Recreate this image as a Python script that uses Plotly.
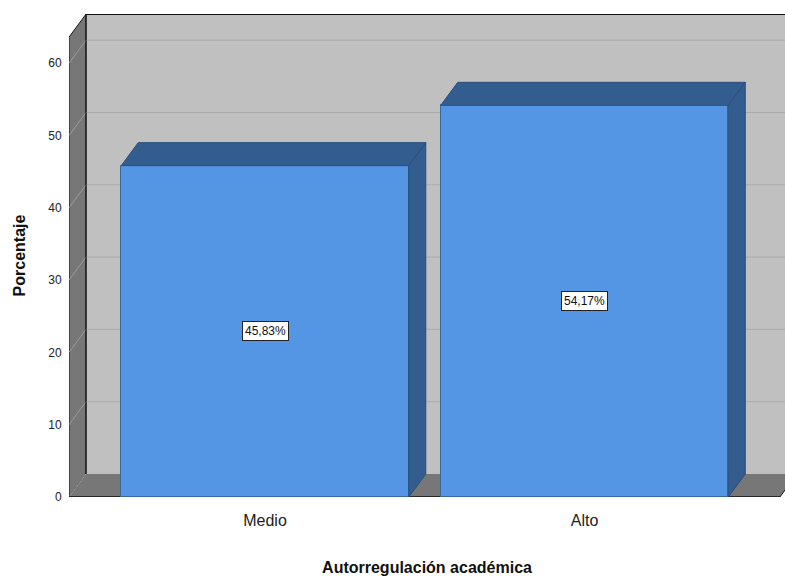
import plotly.graph_objects as go

# ---- data ----
categories = ["Medio", "Alto"]
values = [45.83, 54.17]
value_labels = ["45,83%", "54,17%"]
y_ticks = [0, 10, 20, 30, 40, 50, 60]
x_title = "Autorregulación académica"
y_title = "Porcentaje"

# ---- style / geometry (axis units) ----
BAR_W = 0.9
DX = 0.0532      # depth offset in x units
DY = 3.18        # depth offset in y units
X_LEFT = -0.6135
X_RIGHT = 1.6275
WALL_TOP = 63.6
Y_MAX = 66.8
FRONT = "#5496e3"
DARK = "#335d8f"
WALL = "#c0c0c0"
SIDE = "#777777"
FONT = "Liberation Sans, Arial, sans-serif"

xs = list(range(len(categories)))
fig = go.Figure()

shapes = []
# back wall
shapes.append(dict(type="rect", xref="x", yref="y", x0=X_LEFT + DX, x1=X_RIGHT + 0.2,
                   y0=DY, y1=WALL_TOP + DY, fillcolor=WALL, line=dict(width=0), layer="below"))
# left wall
shapes.append(dict(type="path", xref="x", yref="y",
                   path=f"M {X_LEFT},0 L {X_LEFT+DX},{DY} L {X_LEFT+DX},{WALL_TOP+DY} L {X_LEFT},{WALL_TOP} Z",
                   fillcolor=SIDE, line=dict(color="#111111", width=1), layer="below"))
# floor
fr = X_RIGHT - 0.016
shapes.append(dict(type="path", xref="x", yref="y",
                   path=f"M {X_LEFT},0 L {fr},0 L {fr+DX},{DY} L {X_LEFT+DX},{DY} Z",
                   fillcolor=SIDE, line=dict(width=0), layer="below"))
# gridlines on back wall and left wall
for v in y_ticks[1:]:
    shapes.append(dict(type="line", xref="x", yref="y", x0=X_LEFT + DX, x1=X_RIGHT + 0.2,
                       y0=v + DY, y1=v + DY, line=dict(color="#aaaaaa", width=1), layer="below"))
    shapes.append(dict(type="line", xref="x", yref="y", x0=X_LEFT, x1=X_LEFT + DX,
                       y0=v, y1=v + DY, line=dict(color="#9a9a9a", width=1), layer="below"))
shapes.append(dict(type="line", xref="x", yref="y", x0=X_LEFT, x1=X_LEFT + DX,
                   y0=0, y1=DY, line=dict(color="#9a9a9a", width=1), layer="below"))
# edges
shapes.append(dict(type="line", xref="x", yref="y", x0=X_LEFT + DX, x1=X_RIGHT + 0.2,
                   y0=WALL_TOP + DY, y1=WALL_TOP + DY, line=dict(color="#111111", width=1.5), layer="below"))
shapes.append(dict(type="line", xref="x", yref="y", x0=X_LEFT + DX, x1=X_LEFT + DX,
                   y0=DY, y1=WALL_TOP + DY, line=dict(color="#111111", width=1), layer="below"))
shapes.append(dict(type="line", xref="x", yref="y", x0=X_LEFT, x1=fr,
                   y0=0, y1=0, line=dict(color="#111111", width=1.5), layer="below"))
shapes.append(dict(type="line", xref="x", yref="y", x0=fr, x1=fr + DX,
                   y0=0, y1=DY, line=dict(color="#111111", width=1), layer="below"))

# bars: front faces
fig.add_trace(go.Bar(x=xs, y=values, width=BAR_W, marker=dict(color=FRONT, line=dict(color="#3a6aa0", width=1)),
                     hoverinfo="skip", showlegend=False))
# top and side faces
for x, v in zip(xs, values):
    l, r = x - BAR_W / 2, x + BAR_W / 2
    fig.add_trace(go.Scatter(x=[l, r, r + DX, l + DX, l], y=[v, v, v + DY, v + DY, v],
                             fill="toself", fillcolor=DARK, mode="lines",
                             line=dict(color="#2b4f7a", width=1), showlegend=False, hoverinfo="skip"))
    fig.add_trace(go.Scatter(x=[r, r + DX, r + DX, r, r], y=[0, DY, v + DY, v, 0],
                             fill="toself", fillcolor=DARK, mode="lines",
                             line=dict(color="#2b4f7a", width=1), showlegend=False, hoverinfo="skip"))

annotations = []
for x, v, t in zip(xs, values, value_labels):
    annotations.append(dict(x=x, y=v / 2, xref="x", yref="y", text=t, showarrow=False,
                            font=dict(family=FONT, size=12, color="#111111"),
                            bgcolor="white", bordercolor="#222222", borderwidth=1, borderpad=2))

fig.update_layout(
    width=785, height=577,
    margin=dict(l=69, r=0, t=14, b=80),
    paper_bgcolor="white", plot_bgcolor="rgba(0,0,0,0)",
    shapes=shapes, annotations=annotations, bargap=0,
    xaxis=dict(range=[X_LEFT, X_RIGHT], tickvals=xs, ticktext=categories, showgrid=False,
               zeroline=False, showline=False, ticks="outside", ticklen=9, tickcolor="rgba(0,0,0,0)",
               tickfont=dict(family=FONT, size=16, color="#222222"),
               title=dict(text=f"<b>{x_title}</b>", font=dict(family=FONT, size=16, color="#111111"), standoff=33)),
    yaxis=dict(range=[0, Y_MAX], tickvals=y_ticks, showgrid=False, zeroline=False, showline=False,
               ticks="outside", ticklen=4, tickcolor="rgba(0,0,0,0)",
               tickfont=dict(family=FONT, size=12, color="#222222"),
               title=dict(text=f"<b>{y_title}</b>", font=dict(family=FONT, size=16, color="#111111"), standoff=18)),
)

fig.write_html("out.html")
